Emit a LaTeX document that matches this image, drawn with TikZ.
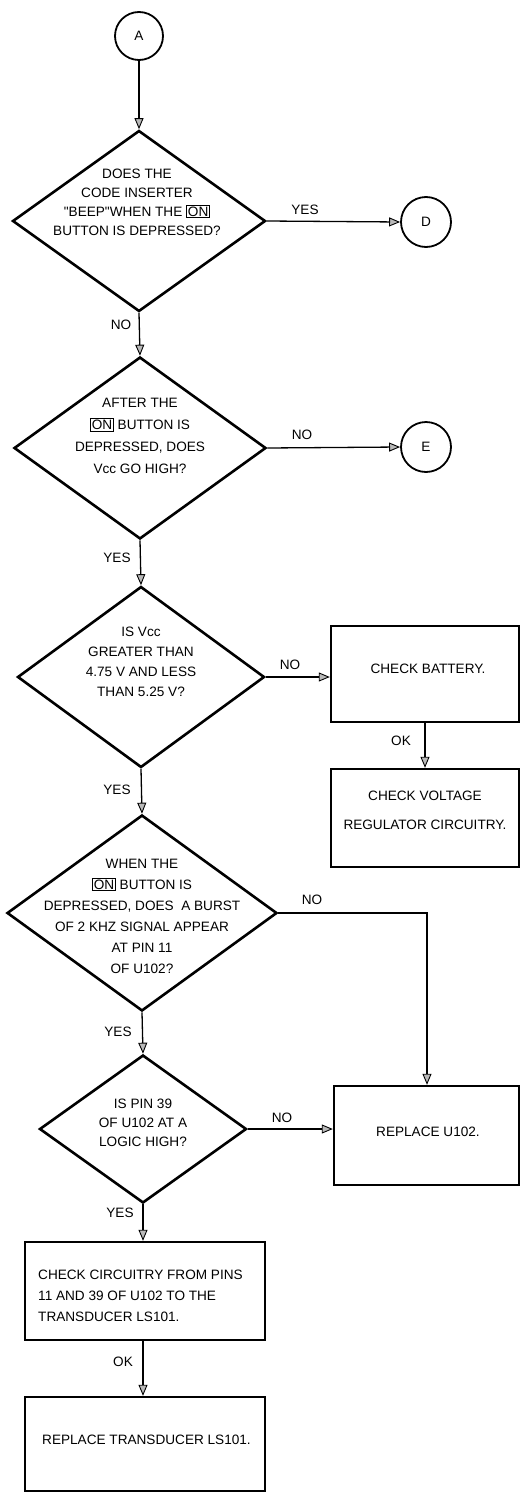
\documentclass[tikz,border=0pt]{standalone}
\usepackage{fontspec}
\setmainfont{Liberation Sans}
\usetikzlibrary{shapes.geometric,arrows.meta}
\newcommand\onbox[1]{{\setlength\fboxsep{0.8pt}\setlength\fboxrule{1pt}\fbox{#1}}}
\begin{document}
\begin{tikzpicture}[x=1pt,y=-1pt,
  font=\fontsize{13.6}{20}\selectfont,
  dia/.style={diamond, draw, line width=2.6pt, inner sep=0pt},
  circ/.style={circle, draw, line width=1.8pt, inner sep=0pt},
  box/.style={rectangle, draw, line width=2.4pt, inner sep=0pt},
  txt/.style={align=center, inner sep=0pt},
  lab/.style={inner sep=0pt},
  conn/.style={line width=1.3pt, -{Triangle[length=11pt,width=9pt,fill=gray!55,line width=0.9pt]}}]
\useasboundingbox (0,0) rectangle (522,1493);

\node[circ, minimum size=48pt] (A) at (139,36) {A};
\node[dia, minimum width=253pt, minimum height=181pt] (d1) at (139,221) {};
\node[txt, font=\fontsize{13.6}{19}\selectfont] (d1t) at (137,202) {DOES THE\\CODE INSERTER\\\textquotedbl BEEP\textquotedbl WHEN THE \onbox{ON}\\BUTTON IS DEPRESSED?};
\node[circ, minimum size=50pt] (D) at (426,222) {D};

\node[dia, minimum width=252pt, minimum height=182pt] (d2) at (140,448) {};
\node[txt, font=\fontsize{13.6}{22}\selectfont] (d2t) at (140,436) {AFTER THE\\\onbox{ON} BUTTON IS\\DEPRESSED, DOES\\Vcc GO HIGH?};
\node[circ, minimum size=50pt] (E) at (426,447) {E};

\node[dia, minimum width=247pt, minimum height=181pt] (d3) at (141,677) {};
\node[txt, font=\fontsize{13.6}{20}\selectfont] (d3t) at (141,662) {IS Vcc\\GREATER THAN\\4.75 V AND LESS\\THAN 5.25 V?};

\node[box, minimum width=188pt, minimum height=96pt] (b1) at (425,674) {};
\node[txt] (b1t) at (428,669) {CHECK BATTERY.};
\node[box, minimum width=188pt, minimum height=98pt] (b2) at (425,818) {};
\node[txt, font=\fontsize{13.6}{29}\selectfont] (b2t) at (425,810) {CHECK VOLTAGE\\REGULATOR CIRCUITRY.};

\node[dia, minimum width=270pt, minimum height=196pt] (d4) at (142,913) {};
\node[txt, font=\fontsize{13.6}{21}\selectfont] (d4t) at (142,916) {WHEN THE\\\onbox{ON} BUTTON IS\\DEPRESSED, DOES\ \ A BURST\\OF 2 KHZ SIGNAL APPEAR\\AT PIN 11\\OF U102?};

\node[box, minimum width=185pt, minimum height=99pt] (b3) at (426.5,1135.5) {};
\node[txt] (b3t) at (428,1132) {REPLACE U102.};

\node[dia, minimum width=207pt, minimum height=148pt] (d5) at (143,1129) {};
\node[txt, font=\fontsize{13.6}{19}\selectfont] (d5t) at (143,1123) {IS PIN 39\\OF U102 AT A\\LOGIC HIGH?};

\node[box, minimum width=240pt, minimum height=98pt] (b4) at (145,1291) {};
\node[txt, align=left, anchor=west, font=\fontsize{13.6}{21}\selectfont] (b4t) at (38,1296) {CHECK CIRCUITRY FROM PINS\\11 AND 39 OF U102 TO THE\\TRANSDUCER LS101.};

\node[box, minimum width=240pt, minimum height=94pt] (b5) at (145,1444) {};
\node[txt, anchor=west] (b5t) at (42,1440) {REPLACE TRANSDUCER LS101.};

\draw[conn] (A) -- (d1.north);
\draw[conn] (d1.east) -- (D.west);
\node[lab] (l1) at (305,210) {YES};
\draw[conn] (d1.south) -- (d2.north);
\node[lab] (l2) at (121,325) {NO};
\draw[conn] (d2.east) -- (E.west);
\node[lab] (l3) at (302,435) {NO};
\draw[conn] (d2.south) -- (d3.north);
\node[lab] (l4) at (117,558) {YES};
\draw[conn] (d3.east) -- (d3.east -| b1.west);
\node[lab] (l5) at (290,665) {NO};
\draw[conn] (b1.south) -- (b2.north);
\node[lab] (l6) at (401,741) {OK};
\draw[conn] (d3.south) -- (d4.north);
\node[lab] (l7) at (117,790) {YES};
\coordinate (c1) at (427,913);
\draw[conn] (d4.east) -- (c1) -- (c1 |- b3.north);
\node[lab] (l8) at (312,900) {NO};
\draw[conn] (d4.south) -- (d5.north);
\node[lab] (l9) at (118,1032) {YES};
\draw[conn] (d5.east) -- (d5.east -| b3.west);
\node[lab] (l10) at (282,1118) {NO};
\draw[conn] (d5.south) -- (d5.south |- b4.north);
\node[lab] (l11) at (120,1213) {YES};
\draw[conn] (b4.south -| d5.south) -- (d5.south |- b5.north);
\node[lab] (l12) at (123,1362) {OK};
\end{tikzpicture}
\end{document}
